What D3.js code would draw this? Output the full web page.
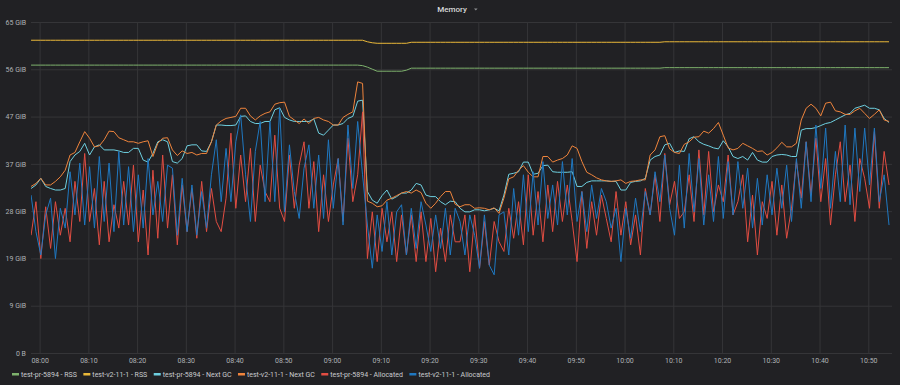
<!DOCTYPE html>
<html><head><meta charset="utf-8">
<script src="https://cdn.jsdelivr.net/npm/d3@7"></script>
<style>
html,body{margin:0;padding:0;background:#212124;}
svg{display:block;font-family:Roboto,"Noto Sans",sans-serif;}
</style></head><body>
<svg id="chart" width="900" height="385"></svg>
<script>
const title = "Memory";
const startTime = "07:58:15";   // first sample
const stepSeconds = 60;          // one sample per minute
const xTickLabels = ["08:00","08:10","08:20","08:30","08:40","08:50","09:00","09:10","09:20","09:30","09:40","09:50","10:00","10:10","10:20","10:30","10:40","10:50"];
const yTickValues = [0, 9.313, 18.626, 27.940, 37.253, 46.566, 55.879, 65.193]; // GiB
const yTickLabels = ["0 B","9 GiB","19 GiB","28 GiB","37 GiB","47 GiB","56 GiB","65 GiB"];
const seriesNames = ["test-pr-5894 - RSS","test-v2-11-1 - RSS","test-pr-5894 - Next GC","test-v2-11-1 - Next GC","test-pr-5894 - Allocated","test-v2-11-1 - Allocated"];
const seriesColors = ["#7EB26D","#EAB839","#6ED0E0","#EF843C","#E24D42","#1F78C1"];

// values in GiB
const prRSS = [
56.7,56.7,56.7,56.7,56.7,56.7,56.7,56.7,56.7,56.7,
56.7,56.7,56.7,56.7,56.7,56.7,56.7,56.7,56.7,56.7,
56.7,56.7,56.7,56.7,56.7,56.7,56.7,56.7,56.7,56.7,
56.7,56.7,56.7,56.7,56.7,56.7,56.7,56.7,56.7,56.7,
56.7,56.7,56.7,56.7,56.7,56.7,56.7,56.7,56.7,56.7,
56.7,56.7,56.7,56.7,56.7,56.7,56.7,56.7,56.7,56.7,
56.7,56.7,56.7,56.7,56.7,56.7,56.7,56.7,56.6,56.3,
55.9,55.5,55.5,55.5,55.5,55.5,55.5,55.7,56.1,56.1,
56.1,56.1,56.1,56.1,56.1,56.1,56.1,56.1,56.1,56.1,
56.1,56.1,56.1,56.1,56.1,56.1,56.1,56.1,56.1,56.1,
56.1,56.1,56.1,56.1,56.1,56.1,56.1,56.1,56.1,56.1,
56.1,56.1,56.1,56.1,56.1,56.1,56.1,56.1,56.1,56.1,
56.1,56.1,56.1,56.1,56.1,56.1,56.1,56.1,56.1,56.1,
56.2,56.2,56.2,56.2,56.2,56.2,56.2,56.2,56.2,56.2,
56.2,56.2,56.2,56.2,56.2,56.2,56.2,56.2,56.2,56.2,
56.2,56.2,56.2,56.2,56.2,56.2,56.2,56.2,56.2,56.2,
56.2,56.2,56.2,56.2,56.2,56.2,56.2,56.2,56.2,56.2,
56.2,56.2,56.2,56.2,56.2,56.2,56.2];
const v2RSS = [
61.6,61.6,61.6,61.6,61.6,61.6,61.6,61.6,61.6,61.6,
61.6,61.6,61.6,61.6,61.6,61.6,61.6,61.6,61.6,61.6,
61.6,61.6,61.6,61.6,61.6,61.6,61.6,61.6,61.6,61.6,
61.6,61.6,61.6,61.6,61.6,61.6,61.6,61.6,61.6,61.6,
61.6,61.6,61.6,61.6,61.6,61.6,61.6,61.6,61.6,61.6,
61.6,61.6,61.6,61.6,61.6,61.6,61.6,61.6,61.6,61.6,
61.6,61.6,61.6,61.6,61.6,61.6,61.6,61.6,61.6,61.3,
61.1,61.0,61.0,61.0,61.0,61.0,61.0,61.0,61.2,61.2,
61.2,61.2,61.2,61.2,61.2,61.2,61.2,61.2,61.2,61.2,
61.2,61.2,61.2,61.2,61.2,61.2,61.2,61.2,61.2,61.2,
61.2,61.2,61.2,61.2,61.2,61.2,61.2,61.2,61.2,61.2,
61.2,61.2,61.2,61.2,61.2,61.2,61.2,61.2,61.2,61.2,
61.2,61.2,61.2,61.2,61.2,61.2,61.2,61.2,61.2,61.2,
61.3,61.3,61.3,61.3,61.3,61.3,61.3,61.3,61.3,61.3,
61.3,61.3,61.3,61.3,61.3,61.3,61.3,61.3,61.3,61.3,
61.3,61.3,61.3,61.3,61.3,61.3,61.3,61.3,61.3,61.3,
61.3,61.3,61.3,61.3,61.3,61.3,61.3,61.3,61.3,61.3,
61.3,61.3,61.3,61.3,61.3,61.3,61.3];
const prNextGC = [
32.4,33.1,34.4,32.8,32.4,32.1,32.1,32.4,37.7,39.0,
39.7,41.3,39.0,40.6,41.0,40.0,40.0,40.0,39.8,39.5,
39.5,40.3,40.3,38.0,37.6,39.3,41.6,42.0,41.6,37.7,
37.4,38.3,40.8,41.0,41.0,39.8,39.7,41.6,44.9,44.9,
44.8,44.8,44.9,46.6,46.7,45.6,45.2,45.2,45.6,45.6,
47.9,48.3,46.4,45.9,45.6,45.6,45.6,45.6,46.1,43.3,
42.9,43.9,44.9,44.9,45.2,46.2,46.6,49.6,49.8,31.8,
30.1,29.5,31.0,32.1,30.3,30.8,31.5,31.5,32.1,33.4,
33.1,31.1,30.8,30.8,29.8,29.2,29.9,29.8,28.5,27.8,
27.8,28.2,28.2,28.0,28.2,28.5,28.0,31.1,35.2,35.4,
35.7,37.6,37.6,35.2,35.4,36.9,37.0,35.7,35.6,35.6,
35.6,35.7,32.8,32.8,33.6,33.9,33.9,33.9,33.9,33.8,
33.8,32.1,32.1,33.6,33.8,33.9,34.4,38.0,38.7,39.0,
41.0,41.3,39.5,39.8,39.7,42.2,42.6,41.6,41.1,40.8,
40.4,40.2,41.8,40.6,38.7,38.3,38.7,38.0,39.5,38.0,
37.6,37.6,38.7,39.0,39.1,39.0,38.7,38.7,43.9,44.2,
44.2,44.4,44.8,45.2,45.4,45.9,46.4,46.9,47.2,48.2,
48.5,48.8,48.2,48.2,47.9,46.2,45.4];
const v2NextGC = [
32.8,33.4,34.4,33.1,33.1,33.8,34.7,36.0,39.0,39.5,
41.6,43.6,42.3,40.6,40.8,42.0,43.7,43.6,42.4,42.0,
41.6,41.6,41.3,41.6,41.8,38.7,41.3,42.3,42.4,40.0,
38.9,39.8,39.3,39.5,39.0,39.3,39.3,41.6,44.9,45.7,
46.2,46.4,46.6,48.2,48.2,46.7,45.9,46.7,47.2,47.5,
49.0,49.3,49.4,46.6,45.9,45.2,46.1,45.2,46.2,46.4,
45.9,45.6,44.9,44.9,46.4,47.0,47.5,53.4,53.1,29.9,
29.5,28.8,29.0,30.1,30.5,31.0,31.5,31.8,31.5,32.1,
31.6,29.5,28.5,29.5,30.8,31.8,31.8,29.3,28.8,29.2,
29.2,28.5,28.6,28.5,28.2,28.6,27.5,30.5,34.3,34.7,
36.0,36.9,35.6,34.7,34.7,38.7,38.7,37.6,38.0,38.3,
39.0,40.8,40.3,37.7,35.6,35.1,34.5,34.1,33.9,33.8,
33.9,34.1,33.4,33.8,33.9,34.1,34.1,39.0,40.0,42.6,
42.8,40.2,39.5,39.3,41.1,41.6,42.5,42.6,43.7,43.3,
44.2,45.4,42.9,40.4,40.0,40.3,41.3,40.8,40.3,39.7,
39.8,39.0,39.5,40.4,41.5,40.6,40.6,41.3,45.9,48.2,
49.0,48.2,46.7,49.2,49.4,47.7,47.5,47.0,47.0,47.7,
48.2,47.2,46.2,47.0,47.9,45.9,45.6];
const prAllocated = [
23.2,29.8,18.6,28.8,20.6,29.8,23.2,28.5,21.9,33.8,
25.9,39.3,25.9,32.4,21.3,33.8,21.9,29.2,24.6,33.8,
25.2,37.0,21.9,32.1,19.3,36.0,22.6,39.0,24.6,35.1,
21.3,33.1,23.9,32.4,22.6,33.8,23.9,32.4,25.9,23.9,
30.5,43.3,28.5,39.0,29.8,40.3,25.9,37.0,31.8,29.8,
42.9,28.5,25.9,39.0,28.5,37.0,41.6,28.5,37.7,23.9,
35.1,25.9,33.1,38.3,25.9,42.3,29.8,35.1,47.5,18.6,
27.8,18.0,28.5,21.9,27.8,18.0,27.2,19.3,27.2,18.0,
27.8,18.0,26.5,16.0,24.6,18.0,27.2,21.9,21.9,27.2,
16.0,27.2,16.7,25.9,17.3,25.9,21.9,20.0,28.5,22.6,
29.8,21.3,35.1,23.2,31.8,21.9,33.1,23.9,33.8,25.9,
33.1,25.9,18.0,31.8,20.6,29.8,23.2,31.1,26.5,21.9,
31.8,23.2,29.8,21.3,27.2,19.3,32.4,27.2,35.1,25.9,
39.3,29.2,33.8,26.5,27.8,35.1,25.9,40.0,27.2,39.7,
27.8,33.1,29.8,39.0,27.2,29.8,35.1,21.9,31.1,19.3,
29.8,26.5,33.8,23.2,33.1,22.6,28.5,37.7,30.5,41.6,
31.1,42.3,29.8,38.3,25.2,35.1,41.6,29.8,37.0,25.9,
38.3,34.4,28.5,43.6,28.5,39.7,33.1];
const v2Allocated = [
31.1,23.9,19.3,27.2,30.5,18.6,28.5,24.6,35.7,27.2,
37.4,25.2,36.7,24.6,38.7,25.9,37.4,23.9,39.7,25.2,
36.7,23.9,35.1,24.6,38.3,27.2,33.8,25.9,37.0,36.4,
23.2,34.4,23.9,33.1,23.2,31.8,24.6,35.1,42.0,29.8,
40.3,29.8,41.6,46.9,35.1,25.9,39.7,45.6,29.8,45.6,
29.8,48.2,27.8,41.0,31.8,26.5,36.4,41.0,28.5,39.0,
26.5,42.0,28.5,38.3,25.2,44.9,32.4,45.6,35.1,25.2,
16.7,27.2,20.0,29.8,19.3,27.8,29.2,19.3,28.5,20.6,
29.8,25.2,20.0,27.2,20.6,28.5,19.3,28.5,25.9,19.3,
27.2,23.2,16.7,27.2,17.3,15.4,27.2,27.8,19.3,32.4,
23.2,35.1,23.9,35.7,25.2,37.7,26.5,33.1,25.2,37.7,
27.2,38.3,25.9,31.8,23.9,33.1,26.5,32.4,29.8,24.6,
28.5,18.0,28.5,22.6,30.5,23.9,31.8,27.2,35.7,29.8,
39.0,28.5,23.2,37.0,24.6,39.3,27.8,38.3,25.2,35.1,
25.9,38.7,26.5,37.7,27.2,37.7,28.5,36.4,24.6,34.4,
25.2,35.1,27.2,36.4,28.5,37.0,25.9,38.3,28.5,41.6,
29.8,44.9,32.4,44.3,28.5,39.7,29.8,44.9,29.2,44.3,
31.8,44.3,33.1,44.3,29.8,35.1,25.2];

const seriesValues = [prRSS, v2RSS, prNextGC, v2NextGC, prAllocated, v2Allocated];

const W = 900, H = 385;
const plot = {left: 31, right: 892, top: 22, bottom: 353};
const parse = d3.timeParse("%H:%M:%S");
const t0 = parse(startTime);
const timeAt = i => new Date(t0.getTime() + i * stepSeconds * 1000);
const xTickDates = xTickLabels.map(s => parse(s + ":00"));

const x = d3.scaleTime()
  .domain([parse("08:00:00"), parse("10:50:00")])
  .range([39.6, 868.3]);
const y = d3.scaleLinear().domain([0, 65.193]).range([plot.bottom, plot.top]);

const svg = d3.select("#chart");
svg.append("rect").attr("width", W).attr("height", H).attr("fill", "#212124");

const gridColor = "#353538";
const labelColor = "#aeb1b5";

// y axis + horizontal grid
const gy = svg.append("g").attr("transform", `translate(${plot.left},0)`)
  .call(d3.axisLeft(y).tickValues(yTickValues).tickFormat((d, i) => yTickLabels[i])
    .tickSizeInner(-(plot.right - plot.left)).tickSizeOuter(0).tickPadding(5));
gy.select(".domain").remove();
gy.selectAll(".tick line").attr("stroke", gridColor).attr("stroke-width", 1);
gy.selectAll(".tick text").attr("fill", labelColor).attr("font-size", 7).attr("font-family", "Roboto");

// x axis + vertical grid
const gx = svg.append("g").attr("transform", `translate(0,${plot.bottom})`)
  .call(d3.axisBottom(x).tickValues(xTickDates).tickFormat((d, i) => xTickLabels[i])
    .tickSizeInner(-(plot.bottom - plot.top)).tickSizeOuter(0).tickPadding(5.5));
gx.select(".domain").remove();
gx.selectAll(".tick line").attr("stroke", gridColor).attr("stroke-width", 1);
gx.selectAll(".tick text").attr("fill", labelColor).attr("font-size", 7).attr("font-family", "Roboto");

// clip
svg.append("clipPath").attr("id", "clip").append("rect")
  .attr("x", plot.left).attr("y", 0).attr("width", plot.right - plot.left).attr("height", plot.bottom);

const line = d3.line().x((d, i) => x(timeAt(i))).y(d => y(d));
const lines = svg.append("g").attr("clip-path", "url(#clip)");
seriesValues.forEach((vals, k) => {
  lines.append("path").datum(vals)
    .attr("d", line)
    .attr("fill", "none")
    .attr("stroke", seriesColors[k])
    .attr("stroke-width", 1)
    .attr("stroke-linejoin", "round");
});

// title
svg.append("text").attr("x", 452).attr("y", 12).attr("text-anchor", "middle")
  .attr("fill", "#d8d9da").attr("font-size", 8).attr("font-weight", 500).text(title);
svg.append("path").attr("d", "M474,8.4 L477.6,8.4 L475.8,10.6 Z").attr("fill", "#8e8f91");

// legend
const legend = svg.append("g");
let lx = 12;
seriesNames.forEach((name, k) => {
  legend.append("rect").attr("x", lx).attr("y", 373).attr("width", 7).attr("height", 2.5)
    .attr("fill", seriesColors[k]);
  const t = legend.append("text").attr("x", lx + 9).attr("y", 376.7)
    .attr("fill", "#c9cbce").attr("font-size", 7).text(name);
  lx += 9 + t.node().getComputedTextLength() + 6.5;
});
</script>
</body></html>
